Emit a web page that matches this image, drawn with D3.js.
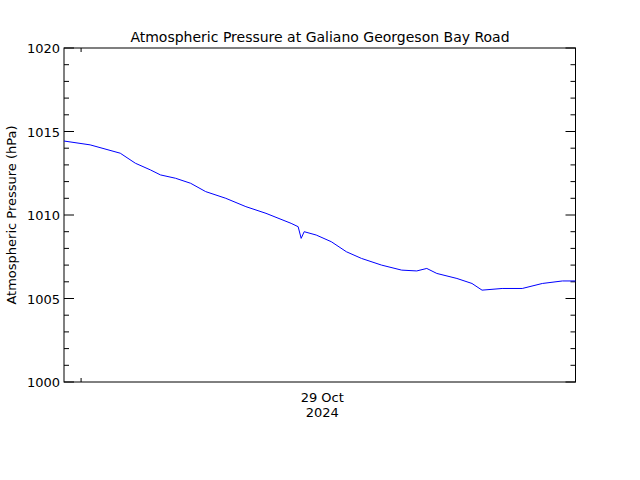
<!DOCTYPE html>
<html><head><meta charset="utf-8">
<script src="https://cdn.jsdelivr.net/npm/d3@7"></script>
<style>body{margin:0;background:#fff}text{font-family:"DejaVu Sans",sans-serif;font-size:13px;fill:#000}</style>
</head><body><svg id="c" width="640" height="480"></svg>
<script>
const times = ["2024-10-28T23:09","2024-10-29T00:27","2024-10-29T01:57","2024-10-29T02:42","2024-10-29T03:27","2024-10-29T03:57","2024-10-29T04:42","2024-10-29T05:27","2024-10-29T06:12","2024-10-29T07:12","2024-10-29T08:12","2024-10-29T09:12","2024-10-29T10:27","2024-10-29T10:48","2024-10-29T10:57","2024-10-29T11:06","2024-10-29T11:42","2024-10-29T12:27","2024-10-29T13:12","2024-10-29T13:57","2024-10-29T14:57","2024-10-29T15:57","2024-10-29T16:42","2024-10-29T17:12","2024-10-29T17:42","2024-10-29T18:42","2024-10-29T19:27","2024-10-29T19:57","2024-10-29T20:57","2024-10-29T21:57","2024-10-29T22:57","2024-10-29T23:57","2024-10-30T00:36"];
const pressure = [1014.43,1014.2,1013.7,1013.1,1012.7,1012.4,1012.2,1011.9,1011.4,1011.0,1010.5,1010.1,1009.5,1009.3,1008.6,1009.0,1008.8,1008.4,1007.8,1007.4,1007.0,1006.7,1006.65,1006.8,1006.5,1006.2,1005.9,1005.5,1005.6,1005.6,1005.9,1006.05,1006.05];
const yTicks = [1000,1005,1010,1015,1020];
const title = "Atmospheric Pressure at Galiano Georgeson Bay Road";
const yLabel = "Atmospheric Pressure (hPa)";
const xLabel = ["29 Oct","2024"];

const svg = d3.select("#c");
const L=64,R=575.5,T=48,B=382;
const parse = d3.timeParse("%Y-%m-%dT%H:%M");
const dates = times.map(parse);
const x = d3.scaleTime().domain([dates[0], dates[dates.length-1]]).range([L,R]);
const y = d3.scaleLinear().domain([1000,1020]).range([B,T]);

svg.append("rect").attr("x",L).attr("y",T).attr("width",R-L).attr("height",B-T).attr("fill","none").attr("stroke","#000");
const minor = d3.range(1000,1021,1);
minor.forEach(v=>{
  const len = yTicks.includes(v)?10:5;
  svg.append("line").attr("x1",L).attr("x2",L+len).attr("y1",y(v)).attr("y2",y(v)).attr("stroke","#000");
  svg.append("line").attr("x1",R).attr("x2",R-len).attr("y1",y(v)).attr("y2",y(v)).attr("stroke","#000");
});
yTicks.forEach(v=>svg.append("text").attr("x",L-4).attr("y",y(v)+5).attr("text-anchor","end").text(v));
const day = parse("2024-10-29T00:00"), noon = parse("2024-10-29T12:00");
[B,T].forEach(yy=>svg.append("line").attr("x1",x(day)).attr("x2",x(day)).attr("y1",yy).attr("y2",yy===B?B-4:T+4).attr("stroke","#000"));
svg.append("text").attr("x",x(noon)).attr("y",402).attr("text-anchor","middle").text(xLabel[0]);
svg.append("text").attr("x",x(noon)).attr("y",417).attr("text-anchor","middle").text(xLabel[1]);
svg.append("text").attr("x",320).attr("y",42).attr("text-anchor","middle").style("font-size","14px").text(title);
svg.append("text").attr("transform",`translate(16,${(T+B)/2}) rotate(-90)`).attr("text-anchor","middle").text(yLabel);
svg.append("path").datum(dates.map((d,i)=>[d,pressure[i]]))
  .attr("d",d3.line().x(d=>x(d[0])).y(d=>y(d[1])))
  .attr("fill","none").attr("stroke","#0000ff").attr("stroke-width",1);
</script></body></html>
